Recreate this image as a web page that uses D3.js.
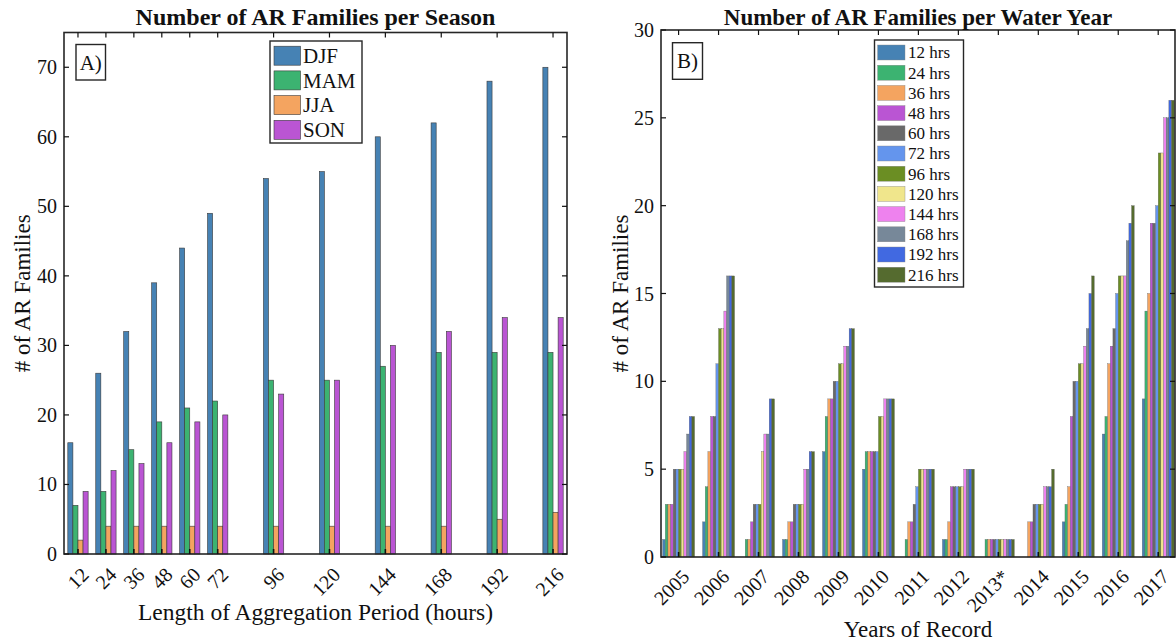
<!DOCTYPE html>
<html>
<head>
<meta charset="utf-8">
<script src="https://cdn.jsdelivr.net/npm/d3@7"></script>
<style>
  body { margin: 0; background: #fff; }
  text { font-family: "Liberation Serif", "Times New Roman", serif; fill: #111; }
</style>
</head>
<body>
<div id="chart"></div>
<script>
// ---- data: panel A (per season) ----
const hours = [12, 24, 36, 48, 60, 72, 96, 120, 144, 168, 192, 216];
const seasons = ["DJF", "MAM", "JJA", "SON"];
const djf = [16, 26, 32, 39, 44, 49, 54, 55, 60, 62, 68, 70];
const mam = [7, 9, 15, 19, 21, 22, 25, 25, 27, 29, 29, 29];
const jja = [2, 4, 4, 4, 4, 4, 4, 4, 4, 4, 5, 6];
const son = [9, 12, 13, 16, 19, 20, 23, 25, 30, 32, 34, 34];
const seasonColors = ["#4682B4", "#3CB371", "#F4A460", "#BA55D3"];

// ---- data: panel B (per water year, one value per aggregation length) ----
const years = ["2005", "2006", "2007", "2008", "2009", "2010", "2011", "2012", "2013*", "2014", "2015", "2016", "2017"];
const aggLabels = ["12 hrs", "24 hrs", "36 hrs", "48 hrs", "60 hrs", "72 hrs", "96 hrs", "120 hrs", "144 hrs", "168 hrs", "192 hrs", "216 hrs"];
const wy2005 = [1, 3, 3, 3, 5, 5, 5, 5, 6, 7, 8, 8];
const wy2006 = [2, 4, 6, 8, 8, 11, 13, 13, 14, 16, 16, 16];
const wy2007 = [0, 1, 1, 2, 3, 3, 3, 6, 7, 7, 9, 9];
const wy2008 = [1, 1, 2, 2, 3, 3, 3, 3, 5, 5, 6, 6];
const wy2009 = [6, 8, 9, 9, 10, 10, 11, 11, 12, 12, 13, 13];
const wy2010 = [5, 6, 6, 6, 6, 6, 8, 8, 9, 9, 9, 9];
const wy2011 = [0, 1, 2, 2, 3, 4, 5, 5, 5, 5, 5, 5];
const wy2012 = [1, 1, 2, 4, 4, 4, 4, 4, 5, 5, 5, 5];
const wy2013 = [0, 1, 1, 1, 1, 1, 1, 1, 1, 1, 1, 1];
const wy2014 = [0, 0, 2, 2, 3, 3, 3, 3, 4, 4, 4, 5];
const wy2015 = [2, 3, 4, 8, 10, 10, 11, 11, 12, 13, 15, 16];
const wy2016 = [7, 8, 11, 12, 13, 15, 16, 16, 16, 18, 19, 20];
const wy2017 = [9, 14, 15, 19, 19, 20, 23, 23, 25, 25, 26, 26];
const aggColors = ["#4682B4", "#3CB371", "#F4A460", "#BA55D3", "#696969", "#6495ED",
                   "#6B8E23", "#F0E68C", "#EE82EE", "#778899", "#4169E1", "#556B2F"];

const seasonSeries = [djf, mam, jja, son];
const yearRows = [wy2005, wy2006, wy2007, wy2008, wy2009, wy2010, wy2011, wy2012, wy2013, wy2014, wy2015, wy2016, wy2017];

const W = 1176, H = 644;
const svg = d3.select("#chart").append("svg")
  .attr("width", W).attr("height", H);
svg.append("rect").attr("width", W).attr("height", H).attr("fill", "#fff");

const axisColor = "#262626";

function frame(g, x0, x1, y0, y1, xticks, yticks, yScale) {
  // box + inward ticks on all four sides
  g.append("rect")
    .attr("x", x0).attr("y", y0).attr("width", x1 - x0).attr("height", y1 - y0)
    .attr("fill", "none").attr("stroke", axisColor).attr("stroke-width", 1.6);
  xticks.forEach(x => {
    g.append("line").attr("x1", x).attr("x2", x).attr("y1", y1).attr("y2", y1 - 5)
      .attr("stroke", "#111").attr("stroke-width", 1.6);
    g.append("line").attr("x1", x).attr("x2", x).attr("y1", y0).attr("y2", y0 + 5)
      .attr("stroke", "#111").attr("stroke-width", 1.2);
  });
  yticks.forEach(v => {
    const y = yScale(v);
    g.append("line").attr("x1", x0).attr("x2", x0 + 5).attr("y1", y).attr("y2", y)
      .attr("stroke", "#111").attr("stroke-width", 1.2);
    g.append("line").attr("x1", x1).attr("x2", x1 - 5).attr("y1", y).attr("y2", y)
      .attr("stroke", "#111").attr("stroke-width", 1.2);
    g.append("text").attr("x", x0 - 7).attr("y", y).attr("dy", "0.35em")
      .attr("text-anchor", "end").attr("font-size", 20).text(v);
  });
}

function tagBox(g, x, y, w, h, label) {
  g.append("rect").attr("x", x).attr("y", y).attr("width", w).attr("height", h)
    .attr("fill", "#fff").attr("stroke", axisColor).attr("stroke-width", 1.4);
  g.append("text").attr("x", x + w / 2).attr("y", y + h / 2).attr("dy", "0.35em")
    .attr("text-anchor", "middle").attr("font-size", 21).text(label);
}

// ================= Panel A =================
const A = { left: 64, right: 567, top: 32.5, bottom: 554 };
const xA = d3.scaleLinear().domain([6, 222]).range([A.left, A.right]);
const yA = d3.scaleLinear().domain([0, 75]).range([A.bottom, A.top]);
const gA = svg.append("g");

const groupA = 0.727 * 12;          // hours taken by one group
const barA = groupA / seasons.length;

seasonSeries.forEach((vals, si) => {
  gA.append("g").selectAll("rect")
    .data(vals).enter().append("rect")
    .attr("x", (d, i) => xA(hours[i] - groupA / 2 + si * barA))
    .attr("width", xA(barA) - xA(0))
    .attr("y", d => yA(d))
    .attr("height", d => yA(0) - yA(d))
    .attr("fill", seasonColors[si])
    .attr("stroke", "#3a3a3a").attr("stroke-width", 0.6);
});

frame(gA, A.left, A.right, A.top, A.bottom, hours.map(h => xA(h)), d3.range(0, 71, 10), yA);

hours.forEach(h => {
  gA.append("text")
    .attr("transform", `translate(${xA(h) + 12},${A.bottom + 22}) rotate(-45)`)
    .attr("text-anchor", "end").attr("font-size", 20).text(h);
});

gA.append("text").attr("x", (A.left + A.right) / 2).attr("y", 25)
  .attr("text-anchor", "middle").attr("font-size", 24).attr("font-weight", "bold")
  .text("Number of AR Families per Season");
gA.append("text").attr("x", (A.left + A.right) / 2).attr("y", 620)
  .attr("text-anchor", "middle").attr("font-size", 23.5)
  .text("Length of Aggregation Period (hours)");
gA.append("text")
  .attr("transform", `translate(30,${(A.top + A.bottom) / 2}) rotate(-90)`)
  .attr("text-anchor", "middle").attr("font-size", 23).text("# of AR Families");

tagBox(gA, 76, 44.5, 29.5, 35.5, "A)");

// legend A
const legA = gA.append("g");
legA.append("rect").attr("x", 270).attr("y", 41).attr("width", 92).attr("height", 102)
  .attr("fill", "#fff").attr("stroke", axisColor).attr("stroke-width", 1.4);
seasons.forEach((s, i) => {
  const y = 46.2 + i * 24.7;
  legA.append("rect").attr("x", 274).attr("y", y).attr("width", 26.5).attr("height", 19)
    .attr("fill", seasonColors[i]).attr("stroke", "#3a3a3a").attr("stroke-width", 0.6);
  legA.append("text").attr("x", 303).attr("y", y + 9.5).attr("dy", "0.35em")
    .attr("font-size", 21).text(s);
});

// ================= Panel B =================
const B = { left: 661, right: 1175, top: 30, bottom: 557 };
const xB = d3.scaleLinear().domain([0.56, 13.42]).range([B.left, B.right]);
const yB = d3.scaleLinear().domain([0, 30]).range([B.bottom, B.top]);
const gB = svg.append("g");

const groupB = 0.8;
const barB = groupB / aggLabels.length;

yearRows.forEach((vals, yi) => {
  gB.append("g").selectAll("rect")
    .data(vals).enter().append("rect")
    .attr("x", (d, k) => xB(yi + 1 - groupB / 2 + k * barB))
    .attr("width", xB(barB) - xB(0))
    .attr("y", d => yB(d))
    .attr("height", d => yB(0) - yB(d))
    .attr("fill", (d, k) => aggColors[k])
    .attr("stroke", "#555").attr("stroke-width", 0.3);
});

frame(gB, B.left, B.right, B.top, B.bottom, years.map((y, i) => xB(i + 1)), d3.range(0, 31, 5), yB);

years.forEach((y, i) => {
  gB.append("text")
    .attr("transform", `translate(${xB(i + 1) + 12},${B.bottom + 21}) rotate(-45)`)
    .attr("text-anchor", "end").attr("font-size", 20).text(y);
});

gB.append("text").attr("x", (B.left + B.right) / 2).attr("y", 25)
  .attr("text-anchor", "middle").attr("font-size", 23).attr("font-weight", "bold")
  .text("Number of AR Families per Water Year");
gB.append("text").attr("x", (B.left + B.right) / 2).attr("y", 637)
  .attr("text-anchor", "middle").attr("font-size", 23).text("Years of Record");
gB.append("text")
  .attr("transform", `translate(628,${(B.top + B.bottom) / 2}) rotate(-90)`)
  .attr("text-anchor", "middle").attr("font-size", 23).text("# of AR Families");

tagBox(gB, 672.5, 42.7, 30, 36.6, "B)");

// legend B
const legB = gB.append("g");
legB.append("rect").attr("x", 874.5).attr("y", 40).attr("width", 89).attr("height", 247)
  .attr("fill", "#fff").attr("stroke", axisColor).attr("stroke-width", 1.4);
aggLabels.forEach((s, i) => {
  const y = 45 + i * 20.2;
  legB.append("rect").attr("x", 877.6).attr("y", y).attr("width", 27.4).attr("height", 15)
    .attr("fill", aggColors[i]).attr("stroke", "#888").attr("stroke-width", 0.4);
  legB.append("text").attr("x", 908).attr("y", y + 7.5).attr("dy", "0.35em")
    .attr("font-size", 17).text(s);
});
</script>
</body>
</html>
